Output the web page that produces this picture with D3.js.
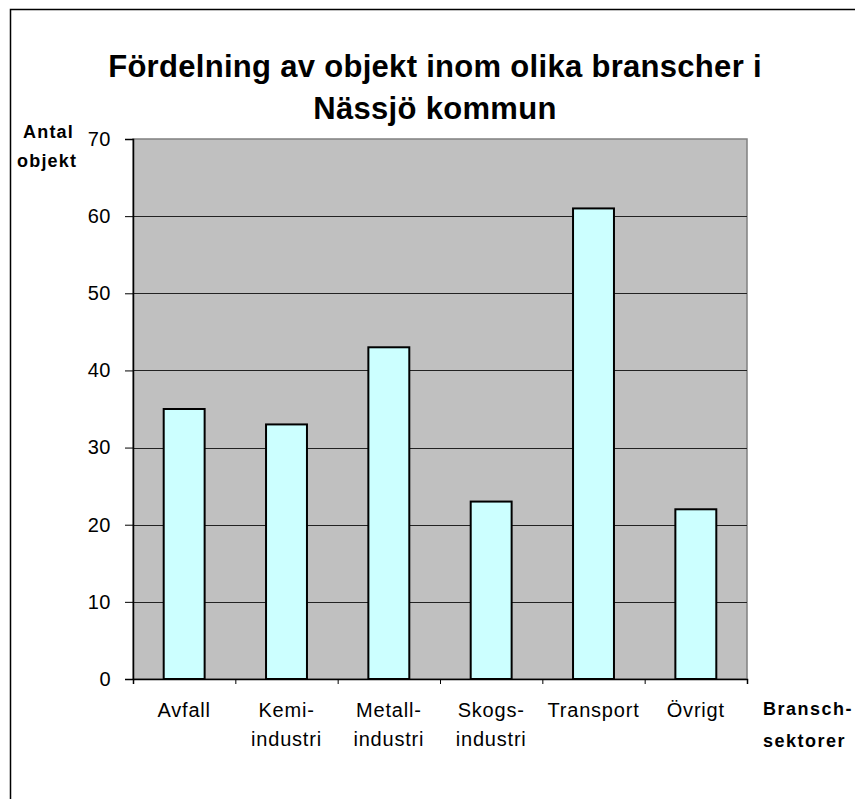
<!DOCTYPE html>
<html>
<head>
<meta charset="utf-8">
<script src="https://cdn.jsdelivr.net/npm/d3@7"></script>
<style>
  body { margin: 0; background: #fff; }
  svg { display: block; font-family: "Liberation Sans", Arial, sans-serif; }
</style>
</head>
<body>
<svg id="chart" width="855" height="799"></svg>
<script>
// Data
const categories = ["Avfall", "Kemi-\nindustri", "Metall-\nindustri", "Skogs-\nindustri", "Transport", "Övrigt"];
const values = [35, 33, 43, 23, 61, 22];
const yTicks = [0, 10, 20, 30, 40, 50, 60, 70];
const titleLines = ["Fördelning av objekt inom olika branscher i", "Nässjö kommun"];
const yLabelLines = ["Antal", "objekt"];
const xLabelLines = ["Bransch-", "sektorer"];

(function() {
    const svg = d3.select('#chart');
    const plot = { left: 133, right: 747, top: 139, bottom: 679 };
    const font = '"Liberation Sans", Arial, sans-serif';

    // Outer frame (runs off the right and bottom edges)
    svg.append('rect')
        .attr('x', 10.5).attr('y', 9.5)
        .attr('width', 900).attr('height', 900)
        .attr('fill', '#fff').attr('stroke', '#000').attr('stroke-width', 1.5);

    const x = d3.scaleBand().domain(d3.range(categories.length))
        .range([plot.left, plot.right]).paddingInner(0.6).paddingOuter(0.3);
    const xEdge = d3.scaleLinear().domain([0, categories.length]).range([plot.left, plot.right]);
    const y = d3.scaleLinear().domain([0, 70]).range([plot.bottom, plot.top]);

    // Plot area
    svg.append('rect')
        .attr('x', plot.left).attr('y', plot.top)
        .attr('width', plot.right - plot.left).attr('height', plot.bottom - plot.top)
        .attr('fill', '#c0c0c0').attr('stroke', '#808080').attr('stroke-width', 1.5);

    // Gridlines
    svg.append('g').selectAll('line').data(yTicks.filter(d => d > 0 && d < 70)).enter().append('line')
        .attr('x1', plot.left).attr('x2', plot.right)
        .attr('y1', d => Math.round(y(d)) + 0.5).attr('y2', d => Math.round(y(d)) + 0.5)
        .attr('stroke', '#222').attr('stroke-width', 1);

    // Bars
    svg.append('g').selectAll('rect').data(values).enter().append('rect')
        .attr('x', (d, i) => x(i)).attr('width', x.bandwidth())
        .attr('y', d => y(d)).attr('height', d => y(0) - y(d))
        .attr('fill', '#ccffff').attr('stroke', '#000').attr('stroke-width', 2);

    // Y axis
    const yAxis = svg.append('g').attr('transform', `translate(${plot.left},0)`)
        .call(d3.axisLeft(y).tickValues(yTicks).tickSize(8).tickPadding(14));
    yAxis.attr('font-size', 20).attr('font-family', font);
    yAxis.select('.domain').attr('stroke', '#000').attr('stroke-width', 1.5);
    yAxis.selectAll('.tick line').attr('stroke', '#000');
    yAxis.selectAll('.tick text').attr('fill', '#000').attr('letter-spacing', 0.5);

    // X axis with ticks at category edges
    const xAxis = svg.append('g').attr('transform', `translate(0,${plot.bottom})`)
        .call(d3.axisBottom(xEdge).tickValues(d3.range(categories.length + 1)).tickSize(5).tickFormat(''));
    xAxis.select('.domain').attr('stroke', '#000').attr('stroke-width', 1.5);
    xAxis.selectAll('.tick line').attr('stroke', '#000');

    const catLabels = svg.append('g').selectAll('text').data(categories).enter().append('text')
        .attr('x', (d, i) => x(i) + x.bandwidth() / 2)
        .attr('y', 717)
        .attr('text-anchor', 'middle').attr('font-size', 20).attr('letter-spacing', 0.8).attr('fill', '#000');
    catLabels.each(function(d) {
        const t = d3.select(this);
        d.split('\n').forEach((line, k) => {
            t.append('tspan').attr('x', t.attr('x')).attr('dy', k === 0 ? 0 : 29).text(line);
        });
    });

    // Title
    svg.append('g').selectAll('text').data(titleLines).enter().append('text')
        .attr('x', 435).attr('y', (d, i) => 77 + i * 42)
        .attr('text-anchor', 'middle').attr('font-size', 31).attr('font-weight', 'bold')
        .attr('letter-spacing', 0.3)
        .attr('fill', '#000').text(d => d);

    // Axis titles
    svg.append('g').selectAll('text').data(yLabelLines).enter().append('text')
        .attr('x', (d, i) => i === 0 ? 23 : 17).attr('y', (d, i) => 138 + i * 29)
        .attr('font-size', 18).attr('font-weight', 'bold').attr('letter-spacing', 1.2)
        .attr('fill', '#000').text(d => d);

    svg.append('g').selectAll('text').data(xLabelLines).enter().append('text')
        .attr('x', 763).attr('y', (d, i) => 715 + i * 32)
        .attr('font-size', 18).attr('font-weight', 'bold').attr('letter-spacing', 1.5)
        .attr('fill', '#000').text(d => d);
})();
</script>
</body>
</html>
